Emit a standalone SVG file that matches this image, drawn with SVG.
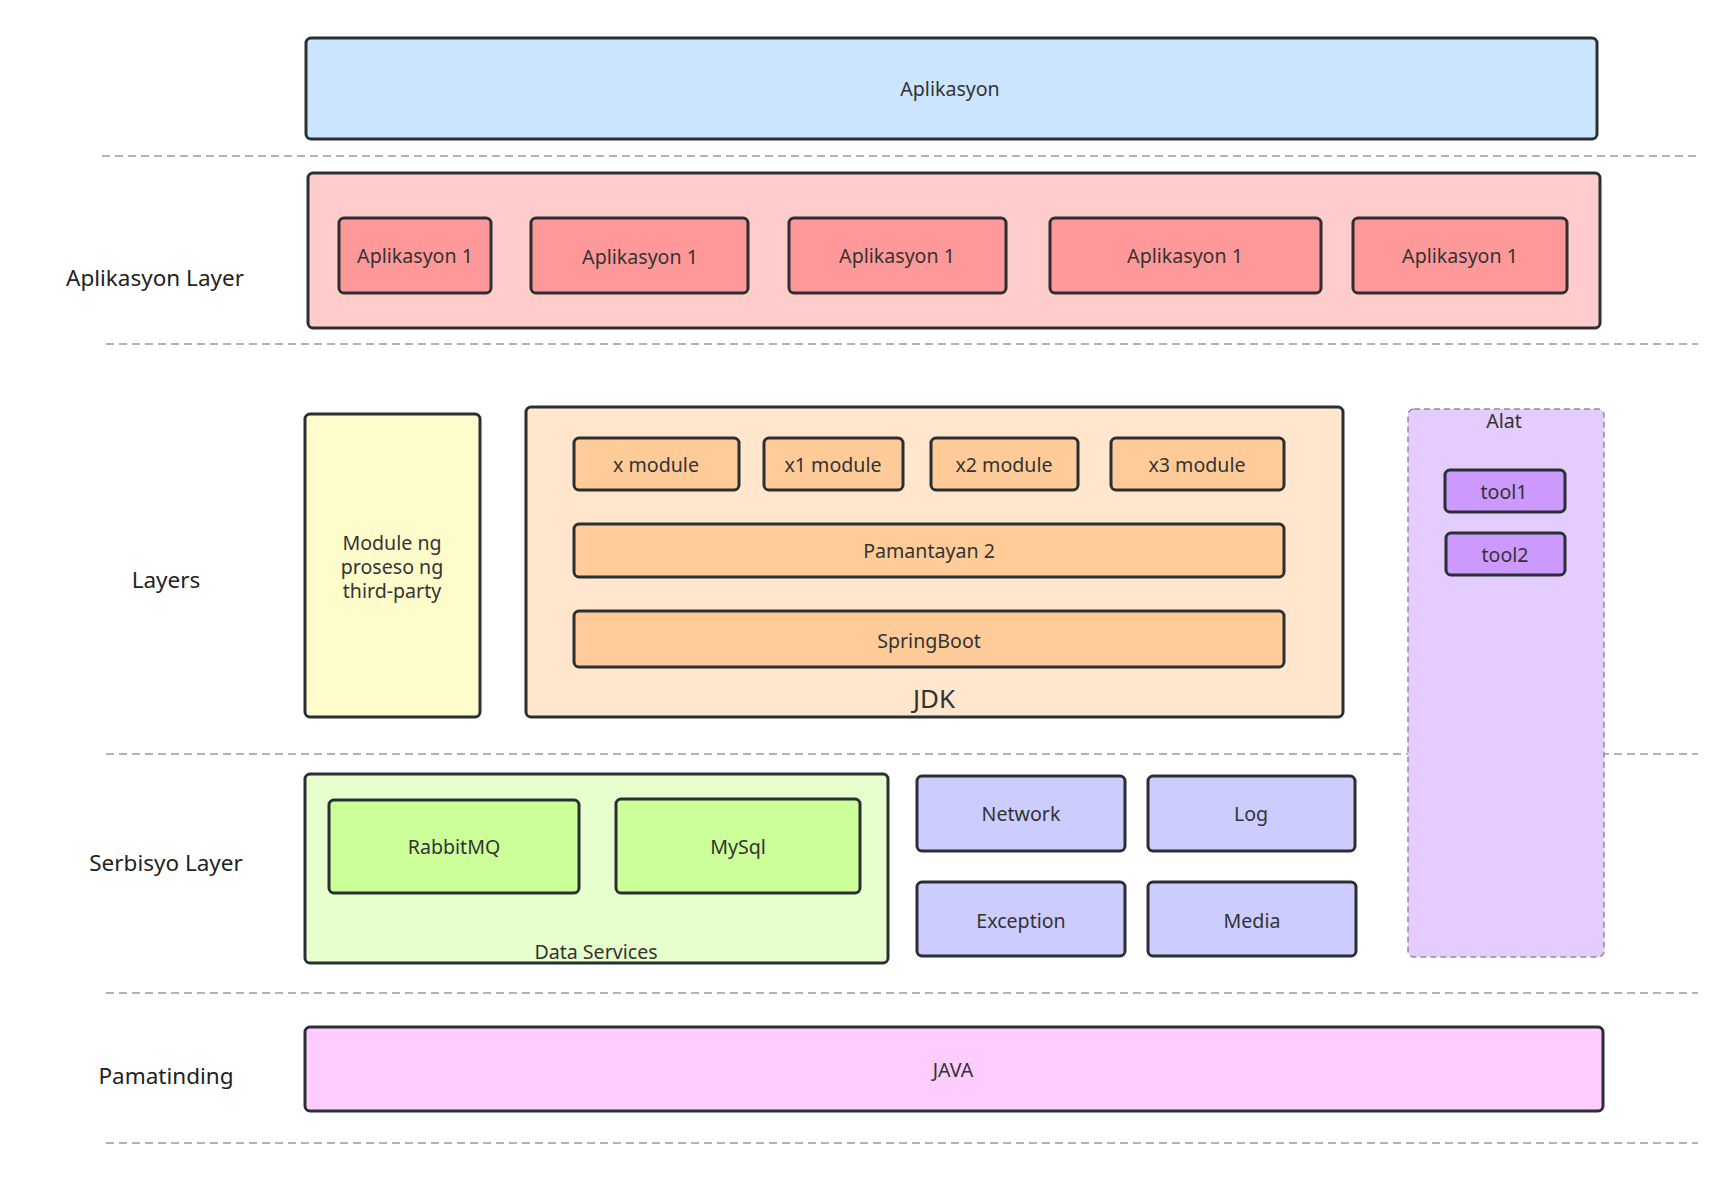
<svg xmlns="http://www.w3.org/2000/svg" width="1733" height="1195" viewBox="0 0 1733 1195">
<style>
text{font-family:"Noto Sans","Open Sans","Liberation Sans",sans-serif;fill:#333;text-anchor:middle;dominant-baseline:central}
.b{stroke:#2a2f33;stroke-width:3}
.sep{stroke:#9a9a9a;stroke-width:1.5;stroke-dasharray:8 5;fill:none}
.lbl{font-size:22.5px;fill:#222}
.t{font-size:19.6px}
</style>
<rect width="1733" height="1195" fill="#ffffff"/>
<g id="separators">
<line class="sep" x1="102" y1="156" x2="1698" y2="156"/>
<line class="sep" x1="106" y1="344" x2="1698" y2="344"/>
<line class="sep" x1="106" y1="754" x2="1698" y2="754"/>
<line class="sep" x1="106" y1="993" x2="1698" y2="993"/>
<line class="sep" x1="106" y1="1143" x2="1698" y2="1143"/>
</g>
<g id="layer-labels">
<text class="lbl" x="155" y="277">Aplikasyon Layer</text>
<text class="lbl" x="166" y="579">Layers</text>
<text class="lbl" x="166" y="862">Serbisyo Layer</text>
<text class="lbl" x="166" y="1075">Pamatinding</text>
</g>
<g id="aplikasyon">
<rect class="b" x="306" y="38" width="1291" height="101" rx="5" fill="#cce5ff"/>
<text class="t" x="950" y="88">Aplikasyon</text>
</g>
<g id="aplikasyon-layer">
<rect class="b" x="308" y="173" width="1292" height="155" rx="5" fill="#ffcccc"/>
</g>
<g id="app1"><rect class="b" x="339" y="218" width="152" height="75" rx="5" fill="#ff9999"/><text class="t" x="415" y="255">Aplikasyon 1</text></g>
<g id="app2"><rect class="b" x="531" y="218" width="217" height="75" rx="5" fill="#ff9999"/><text class="t" x="640" y="256">Aplikasyon 1</text></g>
<g id="app3"><rect class="b" x="789" y="218" width="217" height="75" rx="5" fill="#ff9999"/><text class="t" x="897" y="255">Aplikasyon 1</text></g>
<g id="app4"><rect class="b" x="1050" y="218" width="271" height="75" rx="5" fill="#ff9999"/><text class="t" x="1185" y="255">Aplikasyon 1</text></g>
<g id="app5"><rect class="b" x="1353" y="218" width="214" height="75" rx="5" fill="#ff9999"/><text class="t" x="1460" y="255">Aplikasyon 1</text></g>
<g id="third-party">
<rect class="b" x="305" y="414" width="175" height="303" rx="5" fill="#fffccc"/>
<text class="t" x="392" y="542">Module ng</text>
<text class="t" x="392" y="566">proseso ng</text>
<text class="t" x="392" y="590">third-party</text>
</g>
<g id="jdk">
<rect class="b" x="526" y="407" width="817" height="310" rx="5" fill="#ffe6cc"/>
<text x="934" y="698" font-size="26">JDK</text>
</g>
<g id="xmodule"><rect class="b" x="574" y="438" width="165" height="52" rx="5" fill="#ffcc99"/><text class="t" x="656" y="464">x module</text></g>
<g id="x1module"><rect class="b" x="764" y="438" width="139" height="52" rx="5" fill="#ffcc99"/><text class="t" x="833" y="464">x1 module</text></g>
<g id="x2module"><rect class="b" x="931" y="438" width="147" height="52" rx="5" fill="#ffcc99"/><text class="t" x="1004" y="464">x2 module</text></g>
<g id="x3module"><rect class="b" x="1111" y="438" width="173" height="52" rx="5" fill="#ffcc99"/><text class="t" x="1197" y="464">x3 module</text></g>
<g id="pamantayan"><rect class="b" x="574" y="524" width="710" height="53" rx="5" fill="#ffcc99"/><text class="t" x="929" y="550">Pamantayan 2</text></g>
<g id="springboot"><rect class="b" x="574" y="611" width="710" height="56" rx="5" fill="#ffcc99"/><text class="t" x="929" y="640">SpringBoot</text></g>
<g id="alat">
<rect x="1408" y="409" width="196" height="548" rx="6" fill="#e5ccff" stroke="#8f8f8f" stroke-width="1.5" stroke-dasharray="6 4"/>
<text x="1504" y="420" font-size="19.6">Alat</text>
</g>
<g id="tool1"><rect class="b" x="1445" y="470" width="120" height="42" rx="5" fill="#cc99ff"/><text class="t" x="1504" y="491">tool1</text></g>
<g id="tool2"><rect class="b" x="1446" y="533" width="119" height="42" rx="5" fill="#cc99ff"/><text class="t" x="1505" y="554">tool2</text></g>
<g id="data-services">
<rect class="b" x="305" y="774" width="583" height="189" rx="5" fill="#e6ffcc"/>
<text class="t" x="596" y="951">Data Services</text>
</g>
<g id="rabbitmq"><rect class="b" x="329" y="800" width="250" height="93" rx="5" fill="#ccff99"/><text class="t" x="454" y="846">RabbitMQ</text></g>
<g id="mysql"><rect class="b" x="616" y="799" width="244" height="94" rx="5" fill="#ccff99"/><text class="t" x="738" y="846">MySql</text></g>
<g id="network"><rect class="b" x="917" y="776" width="208" height="75" rx="5" fill="#ccccff"/><text class="t" x="1021" y="813">Network</text></g>
<g id="log"><rect class="b" x="1148" y="776" width="207" height="75" rx="5" fill="#ccccff"/><text class="t" x="1251" y="813">Log</text></g>
<g id="exception"><rect class="b" x="917" y="882" width="208" height="74" rx="5" fill="#ccccff"/><text class="t" x="1021" y="920">Exception</text></g>
<g id="media"><rect class="b" x="1148" y="882" width="208" height="74" rx="5" fill="#ccccff"/><text class="t" x="1252" y="920">Media</text></g>
<g id="java"><rect class="b" x="305" y="1027" width="1298" height="84" rx="5" fill="#ffccff"/><text class="t" x="953" y="1069">JAVA</text></g>
<g id="connectors"></g>
</svg>
